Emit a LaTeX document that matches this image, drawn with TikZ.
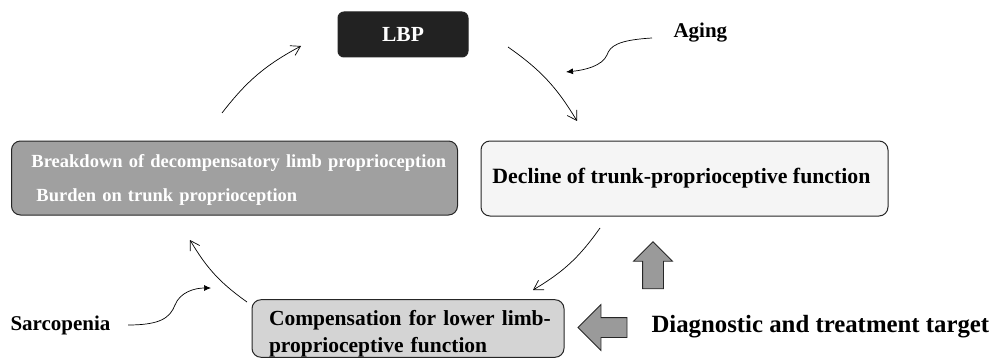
\documentclass[tikz,border=0pt]{standalone}
\usepackage{fontspec}
\setmainfont{Liberation Serif}
\usepackage{tikz}
\usetikzlibrary{arrows.meta,shapes.arrows}

\definecolor{lbpfill}{HTML}{222222}
\definecolor{breakfill}{HTML}{A0A0A0}
\definecolor{declfill}{HTML}{F5F5F5}
\definecolor{compfill}{HTML}{D4D4D4}
\definecolor{blockfill}{HTML}{9A9A9A}

\begin{document}
\begin{tikzpicture}[
  x=1pt,y=-1pt,
  font=\bfseries,
  box/.style={draw=black!85,line width=1pt,rounded corners=9pt,inner sep=0pt},
  cyc/.style={-{Straight Barb[length=9pt,width=11pt]},line width=0.7pt,bend left=12},
  cause/.style={-{Latex[length=7pt,width=6pt]},line width=0.7pt},
  blk/.style={single arrow,draw=black!85,line width=0.8pt,fill=blockfill,
              single arrow head indent=0pt,inner sep=0pt}
]
\useasboundingbox (0,0) rectangle (997,361);

% cycle boxes
\node[box,fill=lbpfill,rounded corners=6pt,minimum width=130pt,minimum height=45pt,
      text=white,font=\bfseries\fontsize{21.5}{24}\selectfont] (lbp) at (403,34.5) {LBP};
\node[box,fill=declfill,minimum width=407pt,minimum height=75pt,
      font=\bfseries\fontsize{21.8}{24}\selectfont] (decl) at (684.5,178.5)
  {\hspace{-6pt}Decline of trunk-proprioceptive function};
\node[box,fill=compfill,minimum width=312pt,minimum height=57pt,
      text width=290pt,align=left,inner xsep=11pt,
      font=\bfseries\fontsize{21.5}{27}\selectfont] (comp) at (408,328.5)
  {\rule{0pt}{26pt}\hspace{6pt}Compensation for lower limb-\\\hspace{6pt}proprioceptive function};
\node[box,fill=breakfill,minimum width=445pt,minimum height=74pt,
      text width=430pt,align=left,inner xsep=8pt,text=white,
      font=\bfseries\fontsize{18.5}{34}\selectfont] (brk) at (234.5,178)
  {\rule{0pt}{17pt}\hspace{12pt}Breakdown of decompensatory limb proprioception\\
   \hspace{17pt}Burden on trunk proprioception};

% cycle arrows
\draw[cyc] (222,113) to (301,46);
\draw[cyc] (508,47) to (577,121);
\draw[cyc] (600,228) to (533,290);
\draw[cyc] (247,302) to (190,240);

% causes
\node[font=\bfseries\fontsize{21}{24}\selectfont,anchor=west] (aging) at (670,33) {Aging};
\node[font=\bfseries\fontsize{21}{24}\selectfont,anchor=west] (sarc) at (7,325) {Sarcopenia};
\coordinate (agingend) at (566,72);
\coordinate (sarcend) at (211,288);
\draw[cause] (aging.west)+(-18,5) .. controls (618,40) and (610,46) .. (607,55)
  .. controls (602,66) and (585,70) .. (agingend);
\draw[cause] (sarc.east)+(14,0) .. controls (160,325) and (170,318) .. (175,305)
  .. controls (180,292) and (195,288) .. (sarcend);

% target
\node[blk,shape border rotate=90,minimum height=47pt,minimum width=38pt,
      single arrow head extend=9pt,inner sep=10pt] (up) at (653,270.5) {};
\node[blk,shape border rotate=180,minimum height=49pt,minimum width=45pt,
      single arrow head extend=13pt,inner sep=9.5pt] (left) at (607.5,327.5) {};
\node[font=\bfseries\fontsize{24.8}{28}\selectfont,anchor=west] (target) at (648,327)
  {Diagnostic and treatment target};
\end{tikzpicture}
\end{document}
